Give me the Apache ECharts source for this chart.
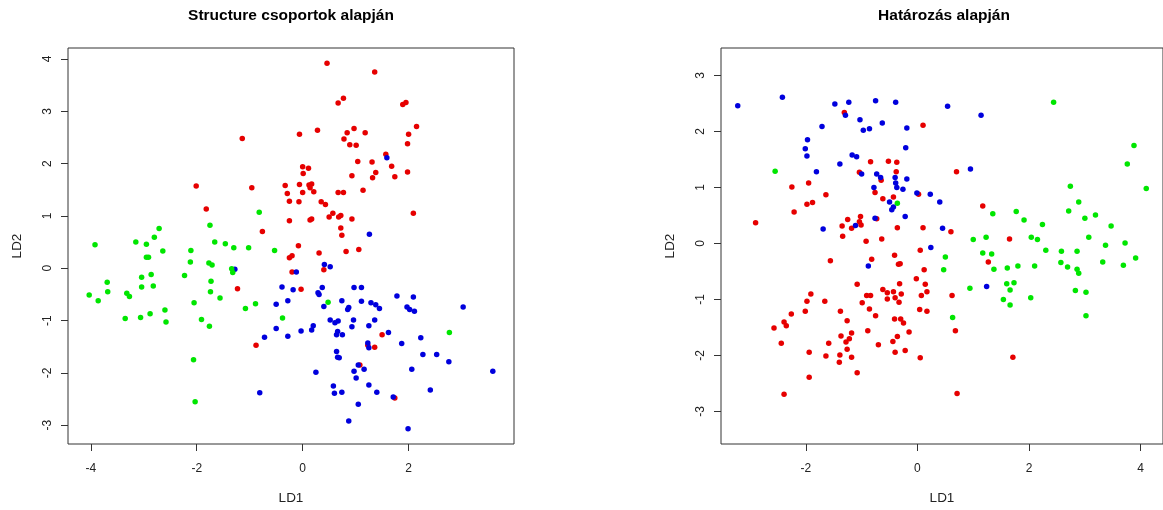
<!DOCTYPE html>
<html>
<head>
<meta charset="utf-8">
<script src="https://cdn.jsdelivr.net/npm/echarts@6/dist/echarts.min.js"></script>
<style>html,body{margin:0;padding:0;background:#fff}#c{width:1163px;height:510px}</style>
</head>
<body>
<div id="c"></div>
<script>
const titles = ['Structure csoportok alapján', 'Határozás alapján'];
const xName = 'LD1', yName = 'LD2';
const leftXTicks = [-4, -2, 0, 2];
const leftYTicks = [-3, -2, -1, 0, 1, 2, 3, 4];
const rightXTicks = [-2, 0, 2, 4];
const rightYTicks = [-3, -2, -1, 0, 1, 2, 3];

const leftRed = [[-1.14,2.48],[-2.01,1.57],[-0.96,1.54],[-0.33,1.58],[-0.29,1.43],[-0.25,1.28],[-1.82,1.13],[-0.25,0.91],[-0.76,0.70],[-0.25,0.20],[-1.23,-0.39],[-0.88,-1.47],[0.46,3.92],[1.36,3.75],[0.67,3.16],[0.77,3.25],[1.89,3.13],[1.95,3.17],[-0.06,2.56],[0.28,2.64],[0.78,2.47],[0.84,2.59],[0.97,2.67],[1.18,2.59],[0.89,2.36],[1.01,2.35],[2.15,2.71],[2.00,2.56],[1.98,2.38],[1.57,2.18],[1.04,2.04],[1.31,2.03],[1.68,1.95],[1.98,1.84],[1.38,1.83],[1.32,1.73],[1.74,1.75],[0.93,1.77],[0.00,1.94],[0.11,1.91],[0.01,1.81],[-0.06,1.60],[0.12,1.59],[0.17,1.61],[0.14,1.54],[0.00,1.45],[0.21,1.46],[0.67,1.45],[0.77,1.45],[1.14,1.49],[-0.07,1.27],[0.35,1.27],[0.43,1.22],[0.14,0.92],[0.17,0.94],[0.50,0.98],[0.57,1.05],[0.68,0.98],[0.72,1.01],[0.93,0.94],[2.09,1.05],[0.72,0.77],[0.74,0.63],[-0.08,0.43],[-0.20,0.24],[0.31,0.29],[0.82,0.32],[1.06,0.36],[-0.20,-0.07],[0.40,-0.03],[-0.03,-0.40],[1.50,-1.27],[1.23,-1.47],[1.36,-1.51],[1.08,-1.85],[1.74,-2.48]];
const leftBlue = [[1.59,2.11],[1.26,0.65],[-1.28,-0.02],[-0.39,-0.36],[-0.28,-0.62],[-0.50,-0.69],[-0.50,-1.15],[-0.28,-1.30],[-0.72,-1.32],[-0.81,-2.38],[-0.12,-0.07],[0.41,0.07],[0.52,0.03],[-0.18,-0.41],[0.37,-0.37],[0.29,-0.47],[0.31,-0.50],[0.97,-0.37],[1.11,-0.37],[0.74,-0.62],[0.40,-0.73],[0.87,-0.75],[0.85,-0.79],[1.11,-0.63],[1.29,-0.66],[1.38,-0.70],[1.45,-0.77],[1.78,-0.53],[2.09,-0.55],[1.97,-0.74],[2.02,-0.79],[2.11,-0.82],[3.03,-0.74],[-0.03,-1.20],[0.17,-1.18],[0.20,-1.10],[0.52,-0.99],[0.61,-1.04],[0.67,-1.01],[0.64,-1.27],[0.66,-1.21],[0.75,-1.27],[0.96,-0.99],[0.93,-1.12],[1.36,-0.99],[1.25,-1.10],[1.62,-1.23],[2.23,-1.33],[1.87,-1.44],[1.23,-1.43],[1.25,-1.52],[2.27,-1.65],[2.53,-1.65],[2.76,-1.79],[0.64,-1.59],[0.66,-1.70],[0.69,-1.71],[1.05,-1.85],[1.16,-1.93],[0.97,-1.97],[1.01,-2.10],[0.25,-1.99],[2.06,-1.93],[3.59,-1.97],[1.25,-2.23],[1.40,-2.37],[0.58,-2.25],[0.60,-2.39],[0.74,-2.37],[2.41,-2.33],[1.71,-2.46],[1.05,-2.60],[0.87,-2.92],[1.99,-3.07]];
const leftGreen = [[-0.82,1.07],[-1.75,0.82],[-2.71,0.76],[-2.80,0.59],[-3.15,0.50],[-2.95,0.46],[-3.92,0.45],[-1.66,0.50],[-1.46,0.47],[-1.30,0.39],[-1.02,0.39],[-0.53,0.34],[-2.11,0.34],[-2.64,0.33],[-2.95,0.21],[-2.91,0.21],[-2.12,0.12],[-1.77,0.10],[-1.71,0.06],[-1.34,-0.01],[-1.32,-0.08],[-2.86,-0.12],[-3.04,-0.17],[-2.23,-0.14],[-3.69,-0.27],[-1.73,-0.25],[-3.68,-0.45],[-4.03,-0.51],[-3.86,-0.62],[-3.32,-0.48],[-3.27,-0.54],[-3.04,-0.36],[-2.82,-0.34],[-1.74,-0.45],[-1.56,-0.57],[-2.05,-0.66],[-1.08,-0.77],[-0.89,-0.68],[-2.60,-0.80],[-3.35,-0.96],[-3.06,-0.94],[-2.88,-0.87],[-2.58,-1.03],[-1.91,-0.98],[-1.76,-1.11],[-0.38,-0.95],[-2.06,-1.75],[-2.03,-2.55],[0.48,-0.65],[2.77,-1.23]];

const rightRed = [[0.10,2.11],[-2.90,0.37],[-2.25,1.01],[-1.95,1.08],[-2.21,0.56],[-1.98,0.70],[-1.88,0.73],[-1.64,0.87],[-1.31,2.34],[-0.84,1.46],[-0.52,1.47],[-0.37,1.45],[-0.38,1.28],[-1.04,1.27],[-0.65,1.13],[-0.76,0.91],[0.02,0.88],[-0.43,0.83],[-0.62,0.80],[-1.02,0.48],[-0.73,0.44],[-1.25,0.43],[-1.04,0.39],[-1.01,0.33],[-1.35,0.31],[-1.18,0.27],[-0.36,0.28],[0.10,0.28],[-1.34,0.13],[-0.92,0.04],[-0.64,0.08],[0.70,1.28],[1.17,0.67],[0.60,0.21],[1.65,0.08],[0.05,-0.12],[-0.41,-0.21],[-0.82,-0.28],[-1.56,-0.31],[-0.34,-0.37],[-0.31,-0.36],[0.12,-0.47],[-0.02,-0.63],[0.14,-0.73],[-0.32,-0.72],[-1.08,-0.73],[-0.62,-0.82],[-0.54,-0.88],[-0.43,-0.86],[-0.29,-0.90],[-0.91,-0.93],[-0.84,-0.93],[-0.54,-0.99],[-0.40,-0.97],[-0.33,-1.05],[0.07,-0.93],[0.17,-0.86],[-0.99,-1.06],[-0.86,-1.17],[0.04,-1.18],[0.17,-1.21],[-0.75,-1.29],[-1.91,-0.90],[-1.98,-1.03],[-1.66,-1.03],[-2.01,-1.21],[-2.26,-1.26],[-1.38,-1.21],[-0.41,-1.35],[-0.30,-1.35],[-0.25,-1.42],[-1.26,-1.38],[-2.57,-1.51],[-2.39,-1.40],[-2.35,-1.47],[-0.89,-1.56],[-0.15,-1.58],[-1.18,-1.60],[-1.37,-1.65],[-1.22,-1.70],[-1.28,-1.76],[-0.36,-1.66],[-0.44,-1.75],[-0.70,-1.81],[-1.59,-1.78],[-2.44,-1.78],[-1.26,-1.89],[-0.22,-1.91],[-0.40,-1.94],[-1.94,-1.94],[-1.64,-2.01],[-1.39,-1.99],[-1.18,-2.03],[0.05,-2.04],[-1.40,-2.12],[-1.08,-2.31],[-1.94,-2.39],[-2.39,-2.69],[0.62,-0.93],[0.68,-1.56],[0.71,-2.68],[1.27,-0.33],[1.71,-2.03]];
const rightBlue = [[-3.22,2.46],[-2.42,2.61],[-1.69,0.26],[-1.97,1.85],[-2.01,1.69],[-1.98,1.56],[-1.81,1.28],[-1.71,2.09],[-1.48,2.49],[-1.23,2.52],[-1.29,2.29],[-0.75,2.55],[-0.39,2.52],[-1.03,2.21],[-0.97,2.02],[-0.86,2.05],[-0.63,2.15],[-0.19,2.06],[-0.21,1.71],[-1.17,1.58],[-1.09,1.55],[-1.39,1.42],[-1.00,1.24],[-0.73,1.24],[-0.66,1.18],[-0.40,1.18],[-0.39,1.08],[-0.37,1.00],[-0.19,1.15],[-0.78,1.00],[-0.26,0.97],[-0.01,0.90],[-0.50,0.74],[-0.43,0.65],[-0.46,0.60],[-0.22,0.48],[-0.76,0.45],[-1.11,0.32],[0.54,2.45],[1.14,2.29],[0.95,1.33],[0.23,0.88],[0.40,0.74],[0.45,0.27],[0.24,-0.07],[-0.88,-0.40],[1.24,-0.77]];
const rightGreen = [[-2.55,1.29],[-0.36,0.72],[2.44,2.52],[3.88,1.75],[3.76,1.42],[4.10,0.98],[2.74,1.02],[2.89,0.74],[2.71,0.58],[3.00,0.45],[3.19,0.51],[3.47,0.31],[3.07,0.11],[3.37,-0.03],[3.72,0.01],[1.35,0.53],[1.77,0.57],[1.91,0.42],[2.24,0.34],[1.00,0.07],[1.23,0.11],[2.04,0.11],[2.15,0.07],[0.50,-0.24],[0.47,-0.47],[0.63,-1.32],[0.94,-0.80],[1.17,-0.17],[1.33,-0.19],[1.37,-0.46],[1.61,-0.44],[1.80,-0.40],[2.10,-0.40],[1.60,-0.72],[1.73,-0.70],[1.66,-0.83],[1.54,-1.00],[1.66,-1.10],[2.03,-0.97],[2.30,-0.12],[2.58,-0.14],[2.86,-0.14],[2.57,-0.34],[2.69,-0.42],[2.86,-0.46],[2.89,-0.53],[2.83,-0.84],[3.02,-0.87],[3.02,-1.29],[3.32,-0.33],[3.69,-0.39],[3.91,-0.26]];

const RED = '#e60000', BLUE = '#0000dd', GREEN = '#00e600';
const FONT = '"Liberation Sans", Arial, sans-serif';
const AXC = '#333';

function xAxisCfg(gi, min, max, ticks) {
  return {
    type: 'value', gridIndex: gi, min: min, max: max, position: 'bottom',
    name: xName, nameLocation: 'middle', nameGap: 47,
    nameTextStyle: { fontFamily: FONT, fontSize: 13.5, color: '#222' },
    axisLine: { show: false, onZero: false },
    axisTick: { show: true, inside: false, customValues: ticks, length: 7, lineStyle: { color: AXC } },
    axisLabel: { customValues: ticks, margin: 19, fontFamily: FONT, fontSize: 12, color: '#222' },
    splitLine: { show: false }
  };
}
function yAxisCfg(gi, min, max, ticks) {
  return {
    type: 'value', gridIndex: gi, min: min, max: max, position: 'left',
    name: yName, nameLocation: 'middle', nameGap: 44,
    nameTextStyle: { fontFamily: FONT, fontSize: 13.5, color: '#222' },
    axisLine: { show: false, onZero: false },
    axisTick: { show: true, inside: false, customValues: ticks, length: 7, lineStyle: { color: AXC } },
    axisLabel: { customValues: ticks, rotate: 90, margin: 14, fontFamily: FONT, fontSize: 12, color: '#222' },
    splitLine: { show: false }
  };
}
function sc(xi, data, color) {
  return { type: 'scatter', xAxisIndex: xi, yAxisIndex: xi, data: data, symbolSize: 5.5,
    itemStyle: { color: color, opacity: 1 }, emphasis: { disabled: true }, animation: false };
}

const chart = echarts.init(document.getElementById('c'), null, { renderer: 'canvas' });
chart.setOption({
  animation: false,
  backgroundColor: '#fff',
  title: [
    { text: titles[0], left: 291, top: 8, textAlign: 'center', padding: 0,
      textStyle: { fontFamily: FONT, fontSize: 15.5, fontWeight: 'bold', color: '#000' } },
    { text: titles[1], left: 944, top: 8, textAlign: 'center', padding: 0,
      textStyle: { fontFamily: FONT, fontSize: 15.5, fontWeight: 'bold', color: '#000' } }
  ],
  grid: [
    { left: 68, top: 48, width: 446, height: 400, show: true, borderColor: AXC, borderWidth: 1, backgroundColor: 'transparent' },
    { left: 721, top: 48, width: 446, height: 400, show: true, borderColor: AXC, borderWidth: 1, backgroundColor: 'transparent' }
  ],
  xAxis: [ xAxisCfg(0, -4.43, 3.99, leftXTicks), xAxisCfg(1, -3.52, 4.40, rightXTicks) ],
  yAxis: [ yAxisCfg(0, -3.36, 4.21, leftYTicks), yAxisCfg(1, -3.58, 3.49, rightYTicks) ],
  series: [
    sc(0, leftRed, RED), sc(0, leftBlue, BLUE), sc(0, leftGreen, GREEN),
    sc(1, rightRed, RED), sc(1, rightBlue, BLUE), sc(1, rightGreen, GREEN)
  ]
});
</script>
</body>
</html>
